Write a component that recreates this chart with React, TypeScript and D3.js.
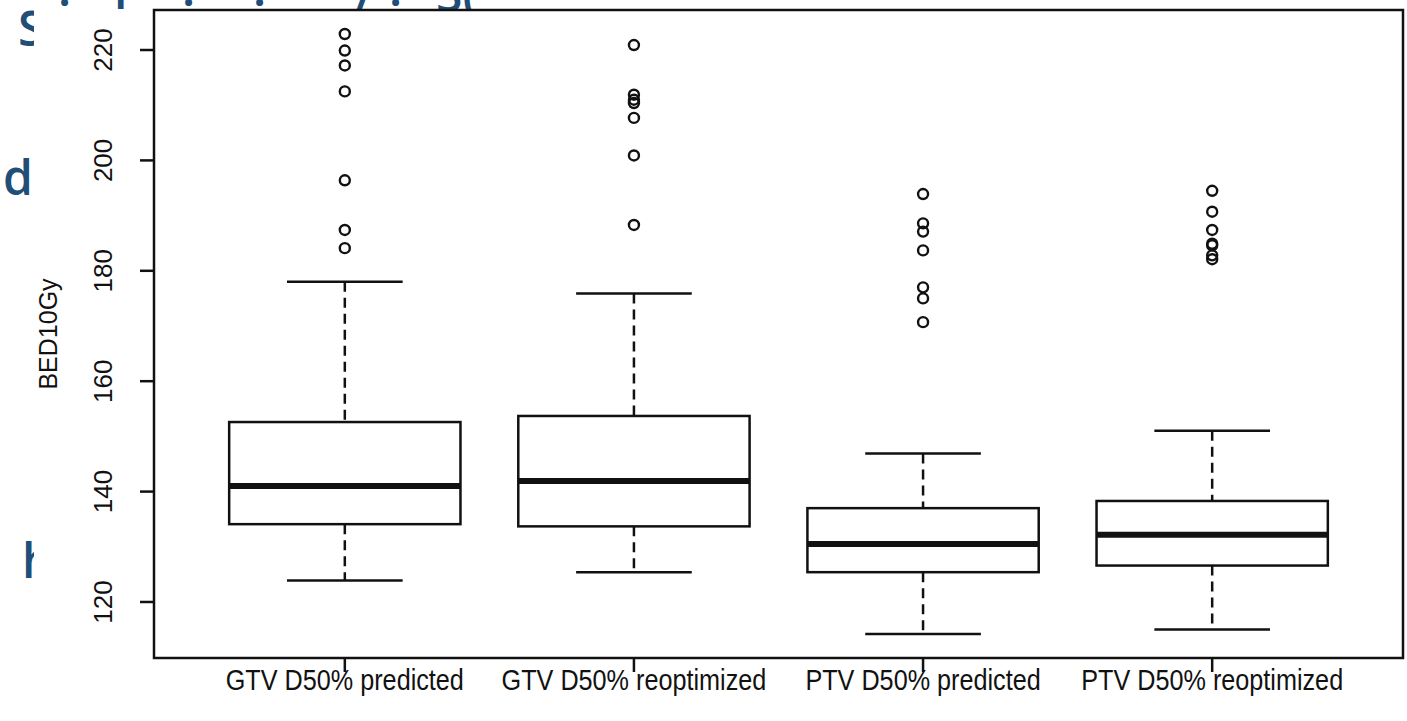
import React from "react";
import * as d3 from "d3";

// box statistics (BED10Gy)
const categories = [
  "GTV D50% predicted",
  "GTV D50% reoptimized",
  "PTV D50% predicted",
  "PTV D50% reoptimized",
];
const lowerWhisker = [123.9, 125.4, 114.2, 115.0];
const q1 = [134.1, 133.7, 125.4, 126.6];
const medians = [141.0, 141.9, 130.5, 132.2];
const q3 = [152.6, 153.7, 137.0, 138.3];
const upperWhisker = [178.0, 175.9, 146.9, 151.0];
const outliers = [
  [222.9, 219.9, 217.2, 212.5, 196.4, 187.4, 184.1],
  [220.9, 211.9, 211.0, 210.4, 207.7, 200.9, 188.3],
  [193.9, 188.6, 187.1, 183.7, 177.0, 175.0, 170.7],
  [194.5, 190.7, 187.4, 184.9, 184.6, 182.8, 182.1],
];
const yTicks = [120, 140, 160, 180, 200, 220];

const W = 1407;
const H = 721;
const left = 154;
const right = 1403;
const top = 10;
const bottom = 658;

const App = () => {
  const all = [...lowerWhisker, ...upperWhisker, ...outliers.flat()];
  const lo = d3.min(all) as number;
  const hi = d3.max(all) as number;
  const pad = (hi - lo) * 0.04;
  const y = d3.scaleLinear().domain([lo - pad, hi + pad]).range([bottom, top]);
  const xPad = (4.5 - 0.5) * 0.04;
  const x = d3.scaleLinear().domain([0.5 - xPad, 4.5 + xPad]).range([left, right]);
  const boxHalf = x(1.4) - x(1);
  const capHalf = x(1.2) - x(1);
  const font = "'Liberation Sans', Arial, sans-serif";
  const blue = "#1F4E79";
  const ink = "#111";
  const lw = 2.5;

  return (
    <svg width={W} height={H} style={{ position: "absolute", left: 0, top: 0, background: "#fff" }}>
      <defs>
        <clipPath id="leftStrip">
          <rect x={0} y={0} width={34} height={H} />
        </clipPath>
        <clipPath id="topStrip">
          <rect x={34} y={0} width={W} height={9} />
        </clipPath>
      </defs>

      {/* bits of slide text peeking out behind the chart image */}
      <g fill={blue} fontFamily="'Open Sans', sans-serif" fontSize={48} fontWeight={600}>
        <g clipPath="url(#leftStrip)">
          <text x={18} y={46}>S</text>
          <text x={3} y={195}>d</text>
          <text x={22} y={578}>h</text>
        </g>
        <g clipPath="url(#topStrip)">
          <text x={58} y={6}>.</text>
          <text x={114} y={12}>l</text>
          <text x={182} y={6}>.</text>
          <text x={253} y={6}>.</text>
          <text x={356} y={10}>/</text>
          <text x={389} y={6}>.</text>
          <text x={436} y={12}>S(</text>
        </g>
      </g>

      {/* plot frame */}
      <rect x={left} y={top} width={right - left} height={bottom - top} fill="none" stroke={ink} strokeWidth={lw} />

      {/* y axis */}
      <g fontFamily={font} fontSize={26} fill={ink}>
        {yTicks.map((t) => (
          <g key={t}>
            <line x1={left - 14} x2={left} y1={y(t)} y2={y(t)} stroke={ink} strokeWidth={lw} />
            <text transform={`translate(${left - 42},${y(t)}) rotate(-90)`} textAnchor="middle">
              {t}
            </text>
          </g>
        ))}
        <text
          transform={`translate(57,${(top + bottom) / 2}) rotate(-90) scale(1,1.05)`}
          textAnchor="middle"
          fontSize={25}
        >
          BED10Gy
        </text>
      </g>

      {/* x axis */}
      <g fontFamily={font} fontSize={26} fill={ink}>
        {categories.map((c, i) => (
          <g key={c}>
            <line x1={x(i + 1)} x2={x(i + 1)} y1={bottom} y2={bottom + 14} stroke={ink} strokeWidth={lw} />
            <text transform={`translate(${x(i + 1)},690) scale(0.97,1.12)`} textAnchor="middle">
              {c}
            </text>
          </g>
        ))}
      </g>

      {/* boxes */}
      {categories.map((c, i) => {
        const cx = x(i + 1);
        return (
          <g key={c} stroke={ink} fill="none">
            <line x1={cx} x2={cx} y1={y(upperWhisker[i])} y2={y(q3[i])} strokeWidth={lw} strokeDasharray="10,6" />
            <line x1={cx} x2={cx} y1={y(q1[i])} y2={y(lowerWhisker[i])} strokeWidth={lw} strokeDasharray="10,6" />
            <line x1={cx - capHalf} x2={cx + capHalf} y1={y(upperWhisker[i])} y2={y(upperWhisker[i])} strokeWidth={lw} />
            <line x1={cx - capHalf} x2={cx + capHalf} y1={y(lowerWhisker[i])} y2={y(lowerWhisker[i])} strokeWidth={lw} />
            <rect
              x={cx - boxHalf}
              y={y(q3[i])}
              width={boxHalf * 2}
              height={y(q1[i]) - y(q3[i])}
              fill="#fff"
              strokeWidth={lw}
            />
            <line x1={cx - boxHalf} x2={cx + boxHalf} y1={y(medians[i])} y2={y(medians[i])} strokeWidth={6} />
            {outliers[i].map((v, j) => (
              <circle key={j} cx={cx} cy={y(v)} r={5} strokeWidth={2.4} />
            ))}
          </g>
        );
      })}
    </svg>
  );
};

export default App;
